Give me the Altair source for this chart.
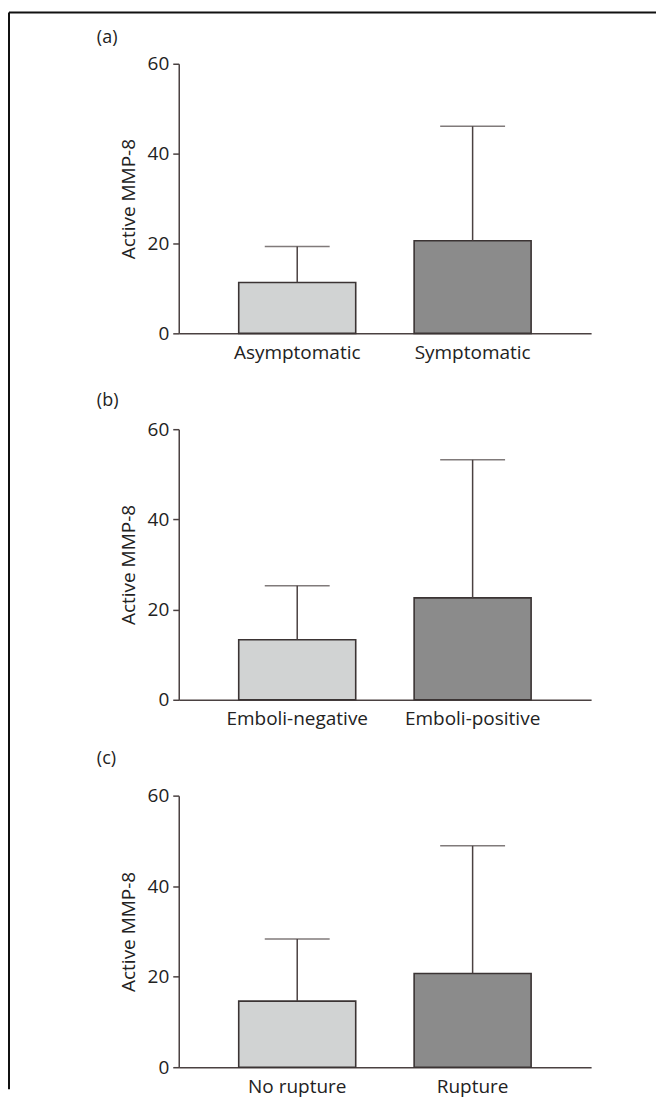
import altair as alt
import pandas as pd

FONT = "Open Sans"
INK = "#222222"
LINE = "#4a4141"

panel_labels = ["(a)", "(b)", "(c)"]
groups_a = ["Asymptomatic", "Symptomatic"]
means_a = [11.3, 20.6]
sds_a = [8.0, 25.5]

groups_b = ["Emboli-negative", "Emboli-positive"]
means_b = [13.3, 22.6]
sds_b = [12.0, 30.6]

groups_c = ["No rupture", "Rupture"]
means_c = [14.6, 20.7]
sds_c = [13.7, 28.2]

y_ticks = [0, 20, 40, 60]
fill_colors = ["#d1d3d3", "#8b8b8b"]


def panel(label, groups, means, sds, height, label_y, border=False):
    df = pd.DataFrame({"group": groups, "mean": means, "sd": sds, "kind": ["low", "high"]})
    base = alt.Chart(df).transform_calculate(upper="datum.mean + datum.sd")
    x = alt.X(
        "group:N",
        sort=groups,
        scale=alt.Scale(paddingInner=0.333, paddingOuter=0.342),
        axis=alt.Axis(title=None, labelAngle=0, ticks=False, labelPadding=10,
                      bandPosition=0.5, labelAlign="center"),
    )
    y = alt.Y(
        "mean:Q",
        scale=alt.Scale(domain=[0, 60]),
        axis=alt.Axis(values=y_ticks, title="Active MMP-8", grid=False),
    )
    err = base.mark_rule(color=LINE, strokeWidth=1.5).encode(
        x=alt.X("group:N", sort=groups), y="mean:Q", y2="upper:Q"
    )
    cap = base.mark_tick(color=LINE, size=65, thickness=1.5).encode(
        x=alt.X("group:N", sort=groups), y="upper:Q"
    )
    bars = base.mark_bar(stroke="#3b3434", strokeWidth=1.6).encode(
        x=x,
        y=y,
        fill=alt.Fill(
            "kind:N",
            scale=alt.Scale(domain=["low", "high"], range=fill_colors),
            legend=None,
        ),
    )
    one = alt.Chart(pd.DataFrame({"k": [0]}))
    tag = one.mark_text(
        font=FONT, fontSize=18, color=INK, align="left", baseline="alphabetic"
    ).encode(x=alt.value(-82), y=alt.value(label_y), text=alt.value(label))
    layers = [bars, err, cap, tag]
    if border:
        top = one.mark_rule(color="#111111", strokeWidth=2).encode(
            x=alt.value(-170), x2=alt.value(478), y=alt.value(-51.3)
        )
        left = one.mark_rule(color="#111111", strokeWidth=2).encode(
            x=alt.value(-170), y=alt.value(-51.3), y2=alt.value(1027)
        )
        layers = layers + [top, left]
    return alt.layer(*layers).properties(width=413, height=height)


pa = panel(panel_labels[0], groups_a, means_a, sds_a, 270, -21, border=True)
pb = panel(panel_labels[1], groups_b, means_b, sds_b, 271, -23.5)
pc = panel(panel_labels[2], groups_c, means_c, sds_c, 272, -32)

chart = (
    alt.VConcatChart(vconcat=[pa, pb, pc], spacing=96, bounds="flush")
    .properties(padding={"left": 0, "top": 2, "right": 0, "bottom": 3}, background="white")
    .configure_view(stroke=None)
    .configure_axis(
        domainColor=LINE,
        domainWidth=1.5,
        tickColor=LINE,
        tickWidth=1.5,
        tickSize=6,
        labelFont=FONT,
        labelFontSize=19,
        labelColor=INK,
        labelPadding=4,
        titleFont=FONT,
        titleFontSize=19,
        titleFontWeight="normal",
        titleColor=INK,
        titlePadding=9,
    )
)

chart.save("out.html", embed_options={"renderer": "svg", "actions": False})
